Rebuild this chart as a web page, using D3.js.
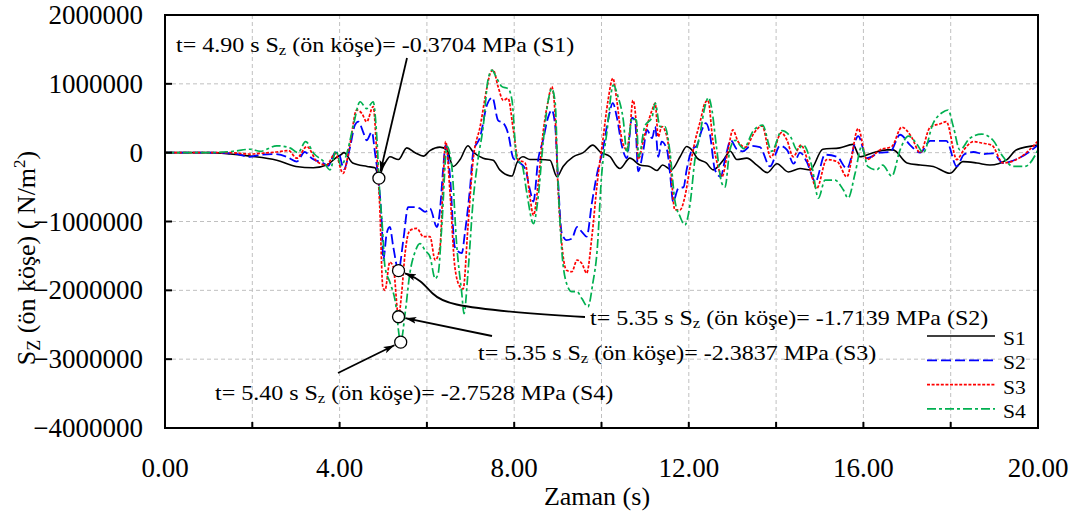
<!DOCTYPE html>
<html><head><meta charset="utf-8">
<style>
  @font-face { font-family: "ChartSerif"; src: local("Liberation Serif"), local("LiberationSerif"), local("Liberation Serif Regular"), local("LiberationSerif-Regular"), local("Tinos"), local("Times New Roman"); }
  svg text { font-family: "ChartSerif", "Times New Roman", "Liberation Serif", Tinos, serif; }
</style>
<script src="https://cdn.jsdelivr.net/npm/d3@7"></script></head>
<body style="margin:0">
<svg width="1078" height="512"></svg>
<script>
// ---- data (time in s, stress in MPa = 1e6 N/m2) ----
const xTicks = [0, 4, 8, 12, 16, 20];
const xMinor = [2, 4, 6, 8, 10, 12, 14, 16, 18];
const yTicks = [-4000000, -3000000, -2000000, -1000000, 0, 1000000, 2000000];
const seriesNames = ["S1", "S2", "S3", "S4"];

const S1 = [[0,0],[1.0,0],[1.5,-0.02],[1.95,-0.05],[2.56,-0.11],[3.0,-0.2],[3.4,-0.22],[3.7,-0.18],[3.95,-0.06],
  [4.03,-0.03],[4.1,0],[4.3,-0.15],[4.63,-0.2],[4.81,-0.22],[4.9,-0.34],[5.0,-0.2],[5.08,-0.11],[5.15,-0.06],
  [5.35,-0.1],[5.54,0.07],[5.73,0],[5.92,-0.05],[6.07,0.03],[6.3,0.08],[6.46,0.04],[6.6,-0.2],[6.76,-0.1],
  [6.94,0.1],[7.06,0.01],[7.29,-0.08],[7.52,-0.11],[7.67,-0.25],[7.95,-0.34],[8.06,-0.15],[8.2,-0.06],
  [8.36,-0.1],[8.6,-0.1],[8.82,-0.11],[8.98,-0.35],[9.12,-0.2],[9.35,-0.06],[9.58,0],[9.8,0.11],[9.97,0.01],
  [10.2,-0.06],[10.35,-0.2],[10.42,-0.23],[10.65,-0.08],[10.88,-0.18],[11.1,-0.2],[11.27,-0.26],[11.4,-0.18],
  [11.6,-0.25],[11.8,-0.06],[11.95,0.09],[12.07,0.04],[12.19,-0.08],[12.4,-0.15],[12.56,-0.25],[12.8,-0.1],
  [12.95,0.02],[13.1,-0.1],[13.33,-0.08],[13.56,-0.18],[13.8,-0.29],[14.02,-0.16],[14.28,-0.28],[14.55,-0.23],
  [14.78,-0.25],[15.07,0.05],[15.46,0.07],[15.76,0.12],[15.92,-0.06],[16.22,0],[16.54,0.04],[16.68,0.04],
  [17.0,-0.15],[17.3,-0.18],[17.6,-0.2],[17.98,-0.3],[18.28,-0.13],[18.6,-0.15],[18.9,-0.18],[19.29,-0.1],
  [19.5,0.04],[20.0,0.11]];

const S2 = [[0,0],[1.0,0],[1.56,-0.01],[1.95,-0.06],[2.18,-0.03],[2.48,-0.02],[2.79,-0.06],[3.02,-0.13],[3.2,0.01],
  [3.36,-0.08],[3.62,-0.15],[3.74,-0.19],[3.9,0],[3.97,0],[4.1,-0.24],[4.24,0.08],[4.35,0.4],[4.43,0.45],
  [4.54,0.3],[4.62,0.18],[4.74,0.3],[4.81,0],[4.89,-0.4],[4.97,-1.08],[5.0,-1.56],[5.08,-1.17],[5.15,-1.08],
  [5.23,-1.37],[5.35,-1.71],[5.46,-1.27],[5.57,-0.79],[5.73,-0.79],[5.84,-0.81],[5.96,-0.86],[6.07,-0.81],
  [6.23,-1.08],[6.3,-0.83],[6.37,-0.25],[6.43,0.11],[6.53,-0.35],[6.64,-1.37],[6.8,-1.46],[6.87,-1.17],
  [6.99,-0.5],[7.06,0],[7.22,0.23],[7.38,0.7],[7.5,0.8],[7.63,0.47],[7.75,0.43],[7.86,0.28],[7.98,-0.08],
  [8.09,-0.13],[8.25,-0.23],[8.36,-0.54],[8.44,-0.71],[8.55,-0.1],[8.66,0.18],[8.78,0.52],[8.86,0.62],
  [8.94,0.38],[9.0,-0.35],[9.09,-1.17],[9.2,-1.27],[9.32,-1.25],[9.44,-1.08],[9.55,-1.15],[9.66,-1.22],
  [9.78,-0.73],[9.9,-0.3],[10.03,0.04],[10.15,0.47],[10.26,0.72],[10.35,0.52],[10.47,0.09],[10.58,-0.08],
  [10.7,0.51],[10.77,0.46],[10.84,-0.27],[10.96,0.04],[11.04,0.33],[11.16,0.21],[11.23,0.38],[11.3,-0.06],
  [11.38,0.16],[11.5,0.04],[11.57,-0.3],[11.64,-0.71],[11.76,-0.52],[11.88,-0.5],[11.95,-0.25],[12.07,0.04],
  [12.19,0.11],[12.3,0.33],[12.39,0.43],[12.48,0.28],[12.6,-0.25],[12.73,-0.35],[12.83,-0.1],[12.96,0.18],
  [13.1,0.05],[13.24,0.02],[13.42,0.1],[13.63,0.08],[13.86,-0.2],[14.09,0.1],[14.25,0.04],[14.4,-0.16],
  [14.55,0],[14.7,-0.13],[14.9,-0.42],[15.12,-0.03],[15.4,-0.06],[15.62,-0.23],[15.88,0.24],[16.08,-0.08],
  [16.38,0],[16.61,0.01],[16.84,0.26],[17.07,0.11],[17.3,0],[17.53,0.17],[17.9,0.17],[18.14,-0.2],[18.3,-0.03],
  [18.52,0.01],[18.75,-0.02],[18.97,-0.01],[19.2,-0.15],[19.59,-0.07],[20.0,0.11]];

const S3 = [[0,0],[1.0,0],[1.49,0],[1.95,-0.02],[2.18,-0.01],[2.56,0.01],[2.83,0.03],[3.02,-0.08],[3.25,0.09],
  [3.48,-0.13],[3.7,-0.18],[3.9,-0.01],[4.08,-0.3],[4.24,0.13],[4.39,0.62],[4.51,0.57],[4.62,0.45],[4.77,0.67],
  [4.85,0],[4.92,-0.79],[4.99,-1.95],[5.04,-2.0],[5.15,-1.59],[5.23,-1.66],[5.35,-2.38],[5.42,-2.05],
  [5.5,-1.46],[5.61,-1.13],[5.77,-1.1],[5.92,-1.22],[6.07,-1.22],[6.19,-1.56],[6.3,-1.37],[6.37,-0.45],
  [6.43,0.16],[6.53,-0.59],[6.64,-1.66],[6.76,-1.95],[6.83,-1.98],[6.94,-1.08],[7.06,-0.1],[7.22,0.38],
  [7.38,0.96],[7.45,1.15],[7.52,1.2],[7.63,0.96],[7.75,0.76],[7.86,0.79],[7.98,0.33],[8.09,-0.1],[8.25,-0.15],
  [8.36,-0.64],[8.44,-0.91],[8.55,-0.45],[8.66,0.28],[8.78,0.76],[8.86,0.96],[8.94,0.52],[9.0,-0.45],
  [9.09,-1.32],[9.2,-1.71],[9.32,-1.73],[9.44,-1.56],[9.55,-1.61],[9.66,-1.75],[9.78,-1.22],[9.9,-0.45],
  [10.03,0.18],[10.15,0.76],[10.26,1.08],[10.35,0.76],[10.47,0.18],[10.58,0.04],[10.65,0.33],[10.72,0.76],
  [10.8,0.38],[10.84,-0.1],[10.96,0.18],[11.04,0.38],[11.16,0.62],[11.23,0.72],[11.3,0.23],[11.38,0.38],
  [11.5,0.23],[11.57,-0.1],[11.68,-0.83],[11.8,-0.83],[11.91,-0.64],[12.03,-0.2],[12.14,0.16],[12.26,0.45],
  [12.37,0.72],[12.44,0.76],[12.55,0.18],[12.67,-0.2],[12.76,-0.35],[12.9,0.04],[13.01,0.33],[13.13,0.16],
  [13.3,0.08],[13.5,0.29],[13.68,0.39],[13.88,-0.07],[14.12,0.29],[14.25,0.18],[14.39,-0.06],[14.57,0.11],
  [14.74,-0.15],[14.93,-0.52],[15.16,-0.1],[15.4,-0.13],[15.62,-0.35],[15.88,0.35],[16.08,-0.1],[16.38,0.04],
  [16.65,0.09],[16.88,0.37],[17.1,0.23],[17.3,0],[17.53,0.37],[17.76,0.42],[17.9,0.45],[18.14,-0.1],[18.3,0.04],
  [18.52,0.16],[18.71,0.14],[18.94,0.11],[19.2,-0.15],[19.59,-0.07],[20.0,0.17]];

const S4 = [[0,0],[1.0,0],[1.56,0.02],[1.95,0.05],[2.18,0.02],[2.56,0.1],[2.86,0.07],[3.05,0],[3.22,0.16],
  [3.42,-0.02],[3.62,-0.12],[3.78,-0.25],[3.92,0.03],[4.03,-0.19],[4.17,0],[4.31,0.38],[4.47,0.74],[4.62,0.64],
  [4.77,0.74],[4.85,0.25],[4.92,-0.59],[4.97,-0.98],[5.04,-1.66],[5.15,-1.88],[5.27,-2.14],[5.4,-2.75],
  [5.5,-2.34],[5.61,-1.75],[5.73,-1.44],[5.84,-1.32],[5.96,-1.42],[6.07,-1.51],[6.19,-1.83],[6.26,-1.75],
  [6.34,-1.08],[6.46,0.09],[6.57,-0.2],[6.68,-1.32],[6.8,-2.05],[6.85,-2.34],[6.94,-1.75],[7.06,-0.69],
  [7.17,-0.1],[7.29,0.38],[7.4,1.06],[7.49,1.2],[7.6,1.08],[7.72,0.96],[7.86,0.93],[7.95,0.76],[8.06,-0.1],
  [8.18,-0.18],[8.29,-0.59],[8.44,-1.03],[8.55,-0.64],[8.66,0.13],[8.78,0.76],[8.86,0.93],[8.94,0.72],
  [9.0,-0.35],[9.09,-1.42],[9.2,-1.9],[9.32,-2.02],[9.44,-2.02],[9.55,-2.12],[9.69,-2.24],[9.8,-1.9],
  [9.9,-1.42],[10.0,-0.35],[10.12,0.28],[10.27,0.98],[10.38,0.81],[10.5,0.47],[10.58,0.0],[10.7,0.5],
  [10.8,0.47],[10.85,-0.06],[10.99,0.38],[11.16,0.52],[11.23,0.72],[11.34,0.38],[11.45,0.38],[11.57,0],
  [11.68,-0.69],[11.8,-0.93],[11.91,-1.05],[12.03,-0.74],[12.14,-0.1],[12.26,0.28],[12.37,0.67],[12.45,0.8],
  [12.53,0.62],[12.63,0.1],[12.76,-0.45],[12.83,-0.5],[12.94,0.04],[13.06,0.18],[13.26,0.06],[13.47,0.31],
  [13.69,0.4],[13.9,0.02],[14.13,0.32],[14.34,0.22],[14.48,0.04],[14.62,0.11],[14.82,-0.2],[14.97,-0.66],
  [15.12,-0.4],[15.35,-0.4],[15.54,-0.54],[15.65,-0.66],[15.81,-0.3],[15.96,0.09],[16.1,-0.2],[16.3,-0.25],
  [16.44,-0.18],[16.65,-0.34],[16.84,0.04],[17.03,0.24],[17.22,0.13],[17.37,0],[17.6,0.43],[17.8,0.58],
  [17.94,0.62],[18.06,0.38],[18.21,0.04],[18.44,0.21],[18.71,0.27],[18.97,0.18],[19.2,-0.06],[19.43,-0.2],
  [19.7,-0.2],[20.0,0.04]];

// marked extreme points
const markTimes  = [4.90, 5.35, 5.35, 5.40];
const markValues = [-0.3704, -1.7139, -2.3837, -2.7528];
const markSeries = ["S1", "S2", "S3", "S4"];

// ---- layout ----
const svg = d3.select("svg");
const plot = {left: 165, right: 1038, top: 15, bottom: 428};
const MPa = 1e6;

const x = d3.scaleLinear().domain([0, 20]).range([plot.left, plot.right]);
const y = d3.scaleLinear().domain([-4000000, 2000000]).range([plot.bottom, plot.top]);

// grid
const grid = svg.append("g").attr("stroke", "#c0c0c0").attr("stroke-width", 1).attr("stroke-dasharray", "4,3");
grid.selectAll(".gx").data(xMinor).enter().append("line")
  .attr("x1", d => x(d)).attr("x2", d => x(d)).attr("y1", plot.top).attr("y2", plot.bottom);
grid.selectAll(".gy").data(yTicks.slice(1, -1)).enter().append("line")
  .attr("y1", d => y(d)).attr("y2", d => y(d)).attr("x1", plot.left).attr("x2", plot.right);

// series
const styles = {
  S1: {color: "#000000", dash: null,       width: 1.6},
  S2: {color: "#0000ff", dash: "10,4",     width: 1.8},
  S3: {color: "#ff0000", dash: "3,1.6",    width: 1.7},
  S4: {color: "#00b050", dash: "9,3,3,3",  width: 1.7}
};
const seriesData = {S1, S2, S3, S4};

const line = d3.line()
  .x(d => x(d[0]))
  .y(d => y(d[1] * MPa))
  .curve(d3.curveMonotoneX);

seriesNames.forEach(name => {
  const st = styles[name];
  svg.append("path")
    .datum(seriesData[name])
    .attr("d", line)
    .attr("fill", "none")
    .attr("stroke", st.color)
    .attr("stroke-width", st.width)
    .attr("stroke-dasharray", st.dash)
    .attr("stroke-linejoin", "round");
});

// frame + ticks
svg.append("rect")
  .attr("x", plot.left).attr("y", plot.top)
  .attr("width", plot.right - plot.left).attr("height", plot.bottom - plot.top)
  .attr("fill", "none").attr("stroke", "#000").attr("stroke-width", 2);

svg.append("g").selectAll("line").data(yTicks).enter().append("line")
  .attr("x1", plot.left).attr("x2", plot.left + 7)
  .attr("y1", d => y(d)).attr("y2", d => y(d))
  .attr("stroke", "#000").attr("stroke-width", 2);
svg.append("g").selectAll("line").data(xMinor).enter().append("line")
  .attr("x1", d => x(d)).attr("x2", d => x(d))
  .attr("y1", plot.bottom).attr("y2", plot.bottom - 6)
  .attr("stroke", "#000").attr("stroke-width", 2);

// tick labels
yTicks.forEach(d => {
  svg.append("text").attr("class", "t").style("font-size", "27px")
    .attr("x", 143).attr("y", y(d) + 9).attr("text-anchor", "end")
    .text(d3.format("d")(d));
});
xTicks.forEach(d => {
  svg.append("text").attr("class", "t").style("font-size", "27px")
    .attr("x", x(d)).attr("y", 477).attr("text-anchor", "middle")
    .text(d3.format(".2f")(d));
});

// axis titles
svg.append("text").attr("class", "t").style("font-size", "26px")
  .attr("x", 597).attr("y", 505).attr("text-anchor", "middle")
  .text("Zaman (s)");

const yt = svg.append("text").attr("class", "t").style("font-size", "26px")
  .attr("transform", "translate(35,258) rotate(-90)")
  .attr("text-anchor", "middle");
yt.append("tspan").text("S");
yt.append("tspan").attr("dy", 5).style("font-size", "18px").text("Z");
yt.append("tspan").attr("dy", -5).text(" (ön köşe) ( N/m");
yt.append("tspan").attr("dy", -10).style("font-size", "17px").text("2");
yt.append("tspan").attr("dy", 10).text(")");

// legend
seriesNames.forEach((name, i) => {
  const st = styles[name];
  const ly = 336 + i * 24.3;
  svg.append("line").attr("x1", 927).attr("x2", 995).attr("y1", ly).attr("y2", ly)
    .attr("stroke", st.color).attr("stroke-width", st.width).attr("stroke-dasharray", st.dash);
  svg.append("text").attr("class", "t").style("font-size", "18px")
    .attr("transform", `translate(1003,${ly + 9}) scale(1.2,1)`)
    .text(name);
});

// annotations
svg.append("defs").append("marker")
  .attr("id", "arr").attr("markerUnits", "userSpaceOnUse")
  .attr("markerWidth", 12).attr("markerHeight", 8)
  .attr("refX", 11).attr("refY", 4).attr("orient", "auto")
  .append("path").attr("d", "M0,0.5 L11,4 L0,7.5 L2.5,4 Z").attr("fill", "#000");

const annotLayout = [
  {tx: 176, ty: 52,  leader: [[407, 58]]},
  {tx: 590, ty: 325, leader: [[585, 317], [520, 313], [447, 305], [432, 294], [421, 280]]},
  {tx: 478, ty: 360, leader: [[492, 336]]},
  {tx: 215, ty: 400, leader: [[338, 373]]}
];
const r = 6;

markTimes.forEach((t, i) => {
  const cx = x(t), cy = y(markValues[i] * MPa);
  const lay = annotLayout[i];
  const last = lay.leader[lay.leader.length - 1];
  const dx = cx - last[0], dy = cy - last[1], len = Math.hypot(dx, dy);
  const end = [cx - dx / len * (r + 1), cy - dy / len * (r + 1)];
  const pts = lay.leader.concat([end]);
  svg.append("path")
    .attr("d", d3.line().curve(pts.length > 2 ? d3.curveBasis : d3.curveLinear)(pts))
    .attr("fill", "none").attr("stroke", "#000").attr("stroke-width", 1.8)
    .attr("marker-end", "url(#arr)");

  const txt = svg.append("text").attr("class", "t").style("font-size", "20px")
    .attr("transform", `translate(${lay.tx},${lay.ty}) scale(1.2,1)`);
  txt.append("tspan").text(`t= ${t.toFixed(2)} s S`);
  txt.append("tspan").attr("dy", 3).style("font-size", "14px").text("z");
  txt.append("tspan").attr("dy", -3).text(` (ön köşe)= ${markValues[i].toFixed(4)} MPa (${markSeries[i]})`);
});

markTimes.forEach((t, i) => {
  svg.append("circle")
    .attr("cx", x(t)).attr("cy", y(markValues[i] * MPa)).attr("r", r)
    .attr("fill", "#fff").attr("stroke", "#000").attr("stroke-width", 1.3);
});

// re-apply the serif family once fonts are settled
function applyFont() {
  svg.selectAll("text.t").style("font-family", "\"Liberation Serif\", \"Times New Roman\", Tinos, serif");
}
applyFont();
if (document.fonts && document.fonts.ready) document.fonts.ready.then(applyFont);
</script>
</body>
</html>
